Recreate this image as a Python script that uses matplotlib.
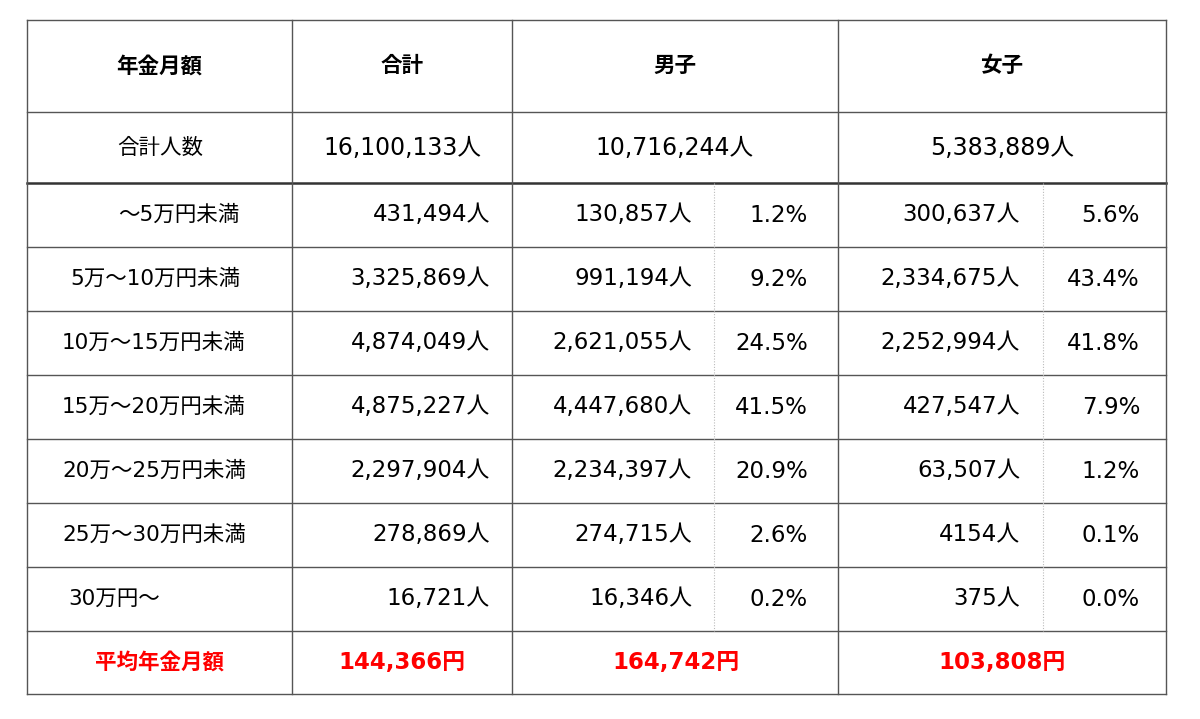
import matplotlib
matplotlib.use("Agg")
import matplotlib.pyplot as plt

plt.rcParams['font.family'] = ['DejaVu Sans', 'Noto Sans CJK JP']

headers = ["年金月額", "合計", "男子", "女子"]
total_label = "合計人数"
totals = ["16,100,133人", "10,716,244人", "5,383,889人"]
categories = ["～5万円未満", "5万～10万円未満", "10万～15万円未満", "15万～20万円未満",
              "20万～25万円未満", "25万～30万円未満", "30万円～"]
all_counts = ["431,494人", "3,325,869人", "4,874,049人", "4,875,227人", "2,297,904人", "278,869人", "16,721人"]
male_counts = ["130,857人", "991,194人", "2,621,055人", "4,447,680人", "2,234,397人", "274,715人", "16,346人"]
male_pct = ["1.2%", "9.2%", "24.5%", "41.5%", "20.9%", "2.6%", "0.2%"]
female_counts = ["300,637人", "2,334,675人", "2,252,994人", "427,547人", "63,507人", "4154人", "375人"]
female_pct = ["5.6%", "43.4%", "41.8%", "7.9%", "1.2%", "0.1%", "0.0%"]
avg_label = "平均年金月額"
averages = ["144,366円", "164,742円", "103,808円"]

fig = plt.figure(figsize=(12, 7.19), dpi=100)
ax = fig.add_axes([0, 0, 1, 1])
ax.set_xlim(0, 1200); ax.set_ylim(719, 0); ax.axis('off')

L, R = 27, 1166
cols = [27, 292, 512, 838, 1166]
rows = [20, 112, 183, 247, 311, 375, 439, 503, 567, 631, 694]
lc = '#555555'
for y in rows:
    lw = 1.8 if y == 183 else 1
    ax.plot([L, R], [y, y], color='#333333' if y == 183 else lc, lw=lw)
for x in cols:
    ax.plot([x, x], [20, 694], color=lc, lw=1)
for x in (714, 1043):
    ax.plot([x, x], [183, 631], color='#bbbbbb', lw=0.8, ls=(0, (1, 1.5)))

fs = 15.5
cx = [(cols[i] + cols[i+1]) / 2 for i in range(4)]
for i, h in enumerate(headers):
    ax.text(cx[i], 66, h, ha='center', va='center', fontsize=fs, fontweight='bold')
ax.text(160, 148, total_label, ha='center', va='center', fontsize=fs)
for x, t in zip([402, 675, 1002], totals):
    ax.text(x, 148, t, ha='center', va='center', fontsize=17)

lx = [118, 70, 62, 62, 62, 62, 68]
for i in range(len(categories)):
    y = (rows[i+2] + rows[i+3]) / 2
    ax.text(lx[i], y, categories[i], ha='left', va='center', fontsize=fs)
    ax.text(490, y, all_counts[i], ha='right', va='center', fontsize=16.5)
    ax.text(692, y, male_counts[i], ha='right', va='center', fontsize=16.5)
    ax.text(808, y, male_pct[i], ha='right', va='center', fontsize=16.5)
    ax.text(1020, y, female_counts[i], ha='right', va='center', fontsize=16.5)
    ax.text(1140, y, female_pct[i], ha='right', va='center', fontsize=16.5)

yb = (631 + 694) / 2
ax.text(160, yb, avg_label, ha='center', va='center', fontsize=fs, fontweight='bold', color='#ff0000')
for x, t in zip([402, 676, 1002], averages):
    ax.text(x, yb, t, ha='center', va='center', fontsize=16.5, fontweight='bold', color='#ff0000')

fig.savefig("out.png", dpi=100)
